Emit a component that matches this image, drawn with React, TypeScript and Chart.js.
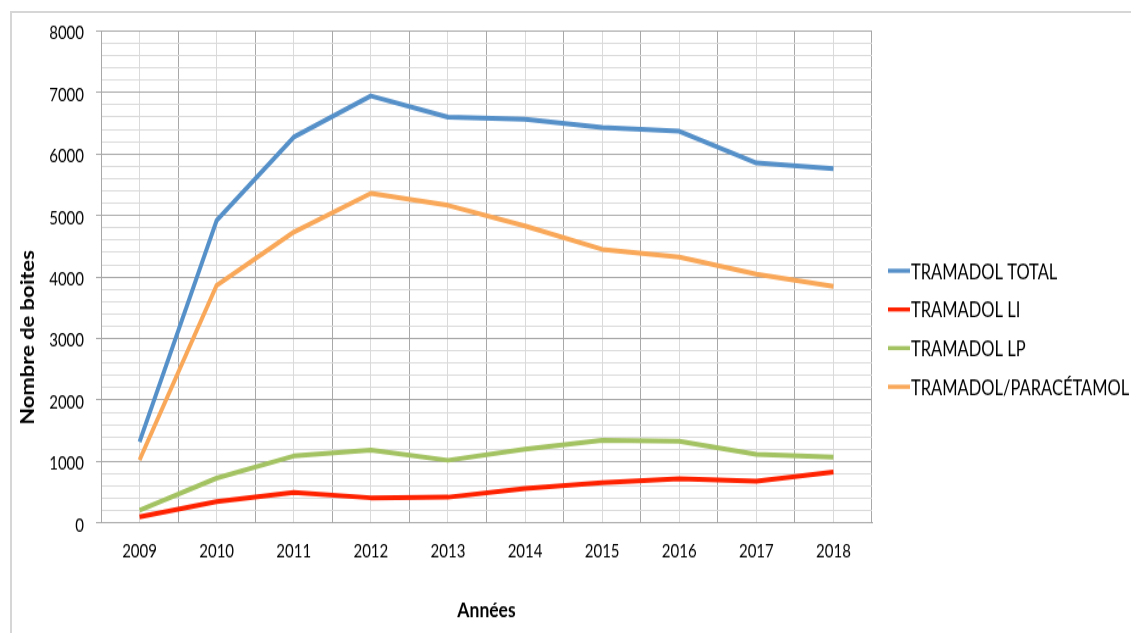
import React, { useEffect, useRef } from 'react';
import { Chart, registerables } from 'chart.js';

Chart.register(...registerables);

const years = ['2009', '2010', '2011', '2012', '2013', '2014', '2015', '2016', '2017', '2018'];
const tramadolTotal = [1320, 4920, 6275, 6945, 6600, 6565, 6430, 6370, 5855, 5760];
const tramadolLI = [100, 350, 495, 410, 420, 560, 655, 720, 680, 830];
const tramadolLP = [205, 730, 1090, 1185, 1020, 1200, 1345, 1330, 1115, 1070];
const tramadolParacetamol = [1025, 3865, 4730, 5360, 5165, 4830, 4450, 4325, 4045, 3850];
const seriesLabels = ['TRAMADOL TOTAL', 'TRAMADOL LI', 'TRAMADOL LP', 'TRAMADOL/PARACÉTAMOL'];
const seriesColors = ['#5690C9', '#FF2200', '#A3C262', '#F9A758'];
const xTitle = 'Années';
const yTitle = 'Nombre de boites';

const W = 1131;
const H = 633;
const CH = 519; // canvas logical height, stretched vertically to H
const FONT = "Lato, 'Open Sans', sans-serif";

const overlayPlugin = {
  id: 'overlay',
  afterDraw(chart: any) {
    const ctx = chart.ctx;
    ctx.save();
    ctx.translate(28.5, 276.7);
    ctx.rotate(-Math.PI / 2);
    ctx.font = `bold 18px ${FONT}`;
    ctx.fillStyle = '#000';
    ctx.textAlign = 'center';
    ctx.textBaseline = 'middle';
    ctx.fillText(yTitle, 0, 0);
    ctx.restore();

    chart.data.datasets.forEach((ds: any, i: number) => {
      const y = 222 + i * 31.7;
      ctx.save();
      ctx.strokeStyle = ds.borderColor;
      ctx.lineWidth = 3.4;
      ctx.beginPath();
      ctx.moveTo(888, y);
      ctx.lineTo(910, y);
      ctx.stroke();
      ctx.font = `16.5px ${FONT}`;
      ctx.fillStyle = '#000';
      ctx.textAlign = 'left';
      ctx.textBaseline = 'alphabetic';
      ctx.fillText(ds.label, 911, y + 6.7);
      ctx.restore();
    });
  },
};

export default function App() {
  const ref = useRef<HTMLCanvasElement>(null);

  useEffect(() => {
    const values = [tramadolTotal, tramadolLI, tramadolLP, tramadolParacetamol];
    const chart = new Chart(ref.current as HTMLCanvasElement, {
      type: 'line',
      data: {
        labels: years,
        datasets: values.map((v, i) => ({
          label: seriesLabels[i],
          data: v,
          borderColor: seriesColors[i],
          backgroundColor: seriesColors[i],
          borderWidth: 4,
          pointRadius: 0,
          tension: 0,
          borderJoinStyle: 'round' as const,
          xAxisID: 'x',
          yAxisID: 'y',
        })),
      },
      options: {
        responsive: false,
        animation: false,
        events: [],
        layout: { padding: { left: 0, right: W - 872, top: 25.4, bottom: 0 } },
        plugins: { legend: { display: false }, tooltip: { enabled: false } },
        scales: {
          x: {
            type: 'category',
            offset: true,
            grid: { offset: true, color: '#a8a8a8', drawTicks: false, lineWidth: 1 },
            border: { color: '#a8a8a8' },
            ticks: { font: { family: FONT, size: 15 }, color: '#000', padding: 14, autoSkip: false, maxRotation: 0 },
            title: {
              display: true,
              text: xTitle,
              font: { family: FONT, size: 17.5, weight: 'bold' },
              color: '#000',
              padding: { top: 0, bottom: 8 },
            },
            afterFit: (s: any) => { s.height = 90.2; },
          },
          x2: {
            type: 'category',
            labels: years,
            offset: true,
            position: 'bottom',
            grid: { offset: false, color: '#dadada', drawTicks: false },
            border: { display: false },
            ticks: { display: false },
            afterFit: (s: any) => { s.height = 0; },
          },
          y: {
            min: 0,
            max: 8000,
            ticks: {
              stepSize: 200,
              autoSkip: false,
              callback: (v: any) => (Number(v) % 1000 === 0 ? String(v) : ''),
              padding: 12,
              labelOffset: 2,
              font: { family: FONT, size: 15 },
              color: '#000',
            },
            grid: {
              color: (c: any) => (c.tick && c.tick.value % 1000 === 0 ? '#a8a8a8' : '#dadada'),
              tickColor: (c: any) => (c.tick && c.tick.value % 1000 === 0 ? '#a8a8a8' : 'rgba(0,0,0,0)'),
              tickLength: 5,
            },
            border: { color: '#a8a8a8' },
            afterFit: (s: any) => { s.width = 101; },
          },
        },
      } as any,
      plugins: [overlayPlugin],
    });
    return () => chart.destroy();
  }, []);

  return (
    <div style={{ position: 'fixed', left: 0, top: 0, width: W, height: H, overflow: 'hidden', background: '#fff' }}>
      <div
        style={{
          position: 'absolute',
          left: 10,
          top: 11,
          width: 1300,
          height: 800,
          border: '2px solid #d6d6d6',
          boxSizing: 'border-box',
        }}
      />
      <div
        style={{
          position: 'absolute',
          left: 0,
          top: 0,
          width: W,
          height: CH,
          transform: `scaleY(${H / CH})`,
          transformOrigin: '0 0',
        }}
      >
        <canvas ref={ref} width={W} height={CH} style={{ display: 'block' }} />
      </div>
    </div>
  );
}
